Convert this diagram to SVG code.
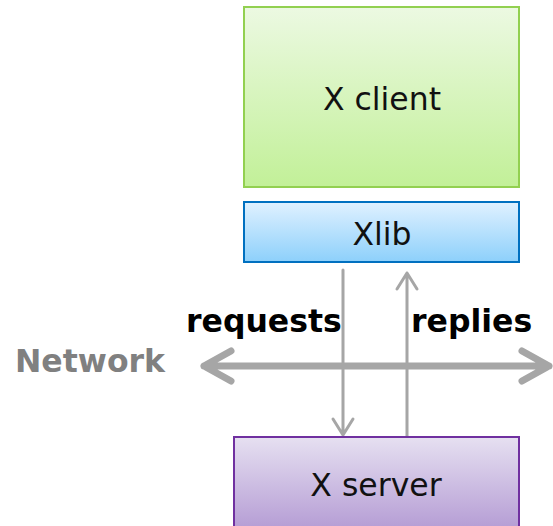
<svg xmlns="http://www.w3.org/2000/svg" width="553" height="526" viewBox="0 0 553 526">
  <defs>
    <linearGradient id="gClient" x1="0" y1="0" x2="0" y2="1">
      <stop offset="0" stop-color="#ecf9e2"/>
      <stop offset="1" stop-color="#c2f098"/>
    </linearGradient>
    <linearGradient id="gXlib" x1="0" y1="0" x2="0" y2="1">
      <stop offset="0" stop-color="#e0f1ff"/>
      <stop offset="1" stop-color="#8dd0fb"/>
    </linearGradient>
    <linearGradient id="gServer" x1="0" y1="0" x2="0" y2="1">
      <stop offset="0" stop-color="#e6e0f1"/>
      <stop offset="1" stop-color="#b197d2"/>
    </linearGradient>
    <style>
      .lbl { font-family: "DejaVu Sans", Verdana, sans-serif; font-size: 31.5px; fill: #111; text-anchor: middle; }
      .bold { font-family: "DejaVu Sans", Verdana, sans-serif; font-size: 31.5px; font-weight: bold; }
      .wire { fill: none; stroke: #a6a6a6; stroke-linecap: round; stroke-linejoin: round; }
    </style>
  </defs>

  <!-- network bus -->
  <g id="network">
    <path class="wire" stroke-width="7" d="M204,366 H549 M231,351 L204,366 L231,381 M522,351 L549,366 L522,381"/>
    <text class="bold" x="15" y="372" fill="#808080">Network</text>
  </g>

  <!-- request / reply connectors -->
  <g id="connectors">
    <path class="wire" stroke-width="3" d="M343,270 V435 M333,419 L343,435 L353,419"/>
    <path class="wire" stroke-width="3" d="M407,437 V273 M397,289 L407,273 L417,289"/>
    <text class="bold" x="186" y="332" fill="#000">requests</text>
    <text class="bold" x="411" y="332" fill="#000">replies</text>
  </g>

  <g id="xclient">
    <rect x="244" y="7" width="275" height="180" fill="url(#gClient)" stroke="#92d050" stroke-width="2"/>
    <text class="lbl" x="382" y="110">X client</text>
  </g>

  <g id="xlib">
    <rect x="244" y="202" width="275" height="60" fill="url(#gXlib)" stroke="#0070c0" stroke-width="2"/>
    <text class="lbl" x="382" y="245">Xlib</text>
  </g>

  <g id="xserver">
    <rect x="234" y="437" width="285" height="100" fill="url(#gServer)" stroke="#7030a0" stroke-width="2"/>
    <text class="lbl" x="376" y="496">X server</text>
  </g>
</svg>
